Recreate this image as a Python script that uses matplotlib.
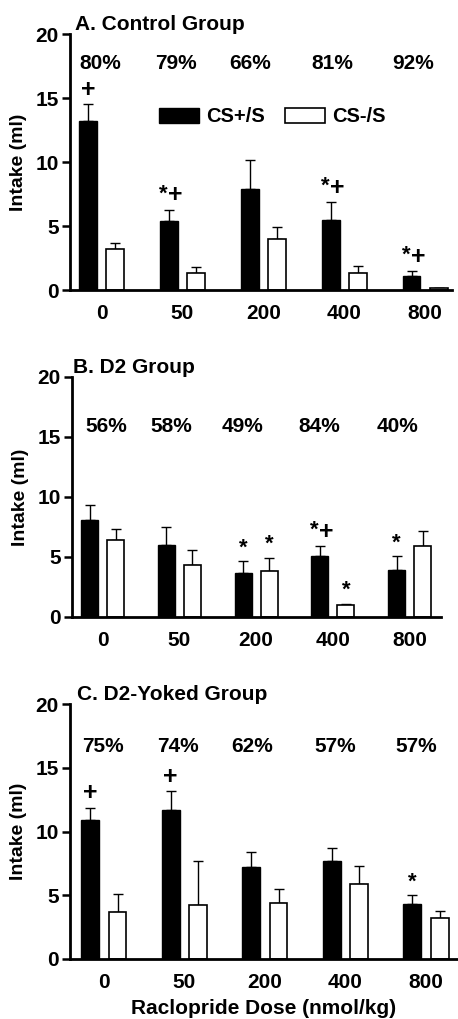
import matplotlib
matplotlib.use("Agg")
import matplotlib.pyplot as plt
import numpy as np

plt.rcParams['font.family'] = ['Liberation Sans', 'DejaVu Sans']
plt.rcParams['font.weight'] = 'bold'

doses = ["0", "50", "200", "400", "800"]

# Panel A: Control Group
a_csp = [13.2, 5.4, 7.9, 5.5, 1.1]
a_csp_err = [1.3, 0.85, 2.25, 1.35, 0.35]
a_csm = [3.2, 1.35, 4.0, 1.3, 0.12]
a_csm_err = [0.5, 0.45, 0.95, 0.55, 0.06]
a_pct = ["80%", "79%", "66%", "81%", "92%"]
a_marks_p = ["+", "*+", "", "*+", "*+"]
a_marks_m = ["", "", "", "", ""]

# Panel B: D2 Group
b_csp = [8.1, 6.0, 3.65, 5.1, 3.9]
b_csp_err = [1.2, 1.5, 1.0, 0.8, 1.2]
b_csm = [6.4, 4.35, 3.85, 0.97, 5.9]
b_csm_err = [0.95, 1.2, 1.1, 0.15, 1.25]
b_pct = ["56%", "58%", "49%", "84%", "40%"]
b_marks_p = ["", "", "*", "*+", "*"]
b_marks_m = ["", "", "*", "*", ""]

# Panel C: D2-Yoked Group
c_csp = [10.9, 11.7, 7.2, 7.7, 4.3]
c_csp_err = [0.95, 1.45, 1.2, 1.0, 0.7]
c_csm = [3.7, 4.2, 4.4, 5.9, 3.2]
c_csm_err = [1.4, 3.5, 1.1, 1.4, 0.6]
c_pct = ["75%", "74%", "62%", "57%", "57%"]
c_marks_p = ["+", "+", "", "", "*"]
c_marks_m = ["", "", "", "", ""]

W, H = 458, 1019
fig = plt.figure(figsize=(W / 100, H / 100), dpi=100)

panels = [
    dict(title="A. Control Group", p=a_csp, pe=a_csp_err, m=a_csm, me=a_csm_err,
         pct=a_pct, mp=a_marks_p, mm=a_marks_m,
         box=(70, 452, 34, 290), xlim=(-0.39, 4.33), pct_y=17.7, tx=0.013,
         pct_dx=[-0.02, -0.08, -0.17, -0.15, -0.15], legend=True),
    dict(title="B. D2 Group", p=b_csp, pe=b_csp_err, m=b_csm, me=b_csm_err,
         pct=b_pct, mp=b_marks_p, mm=b_marks_m,
         box=(72, 441, 377, 617), xlim=(-0.40, 4.41), pct_y=15.9, tx=0.003,
         pct_dx=[0.05, -0.11, -0.18, -0.18, -0.16], legend=False),
    dict(title="C. D2-Yoked Group", p=c_csp, pe=c_csp_err, m=c_csm, me=c_csm_err,
         pct=c_pct, mp=c_marks_p, mm=c_marks_m,
         box=(70, 457, 704, 959), xlim=(-0.42, 4.385), pct_y=16.7, tx=0.018,
         pct_dx=[-0.01, -0.08, -0.16, -0.13, -0.12], legend=False),
]

bw = 0.22
off = 0.17
x = np.arange(len(doses))

def mark(ax, xx, yy, s):
    # '*' drawn smaller and raised, '+' larger (as in the original figure)
    if s == "*":
        ax.text(xx, yy, "*", ha="center", va="bottom", fontsize=16, fontweight="bold")
    elif s == "+":
        ax.text(xx, yy, "+", ha="center", va="bottom", fontsize=18, fontweight="bold")
    elif s == "*+":
        ax.text(xx - 0.07, yy + 0.25, "*", ha="center", va="bottom", fontsize=16,
                fontweight="bold")
        ax.text(xx + 0.08, yy, "+", ha="center", va="bottom", fontsize=18,
                fontweight="bold")

for i, P in enumerate(panels):
    l, r, t, b = P["box"]
    ax = fig.add_axes([l / W, 1 - b / H, (r - l) / W, (b - t) / H])
    ax.bar(x - off, P["p"], bw, color="black", edgecolor="black",
           linewidth=1.0, label="CS+/S", zorder=2)
    ax.bar(x + off, P["m"], bw, color="white", edgecolor="black",
           linewidth=1.2, label="CS-/S", zorder=2)
    ax.errorbar(x - off, P["p"], yerr=[np.zeros(5), P["pe"]], fmt="none",
                ecolor="black", elinewidth=1.0, capsize=3.5, capthick=1.0, zorder=1)
    ax.errorbar(x + off, P["m"], yerr=[np.zeros(5), P["me"]], fmt="none",
                ecolor="black", elinewidth=1.0, capsize=3.5, capthick=1.0, zorder=1)
    ax.set_ylim(0, 20)
    ax.set_xlim(*P["xlim"])
    ax.set_yticks([0, 5, 10, 15, 20])
    ax.set_xticks(x)
    ax.set_xticklabels(doses)
    ax.tick_params(axis="y", direction="out", length=6, width=1.8, labelsize=15, pad=2)
    ax.tick_params(axis="x", length=0, labelsize=15, pad=10)
    for lab in ax.get_xticklabels() + ax.get_yticklabels():
        lab.set_fontweight("bold")
    for s in ["top", "right"]:
        ax.spines[s].set_visible(False)
    ax.spines["left"].set_linewidth(2.0)
    ax.spines["bottom"].set_linewidth(2.0)
    ax.set_ylabel("Intake (ml)", fontsize=14, fontweight="bold", labelpad=6)
    ax.text(P["tx"], 1.0, P["title"], transform=ax.transAxes, fontsize=15,
            fontweight="bold", ha="left", va="bottom")
    for j in range(5):
        ax.text(x[j] + P["pct_dx"][j], P["pct_y"], P["pct"][j], ha="center",
                va="center", fontsize=15, fontweight="bold")
        if P["mp"][j]:
            mark(ax, x[j] - off, P["p"][j] + P["pe"][j] + 0.2, P["mp"][j])
        if P["mm"][j]:
            mark(ax, x[j] + off, P["m"][j] + P["me"][j] + 0.2, P["mm"][j])
    if P["legend"]:
        ax.legend(loc="center left", bbox_to_anchor=(0.232, 0.676), ncol=2,
                  frameon=False, handlelength=2.0, handleheight=0.75,
                  handletextpad=0.35, columnspacing=1.0, borderpad=0,
                  borderaxespad=0, prop=dict(weight="bold", size=14.5))
    if i == 2:
        ax.set_xlabel("Raclopride Dose (nmol/kg)", fontsize=15, fontweight="bold",
                      labelpad=5)

fig.savefig("out.png", dpi=100)
